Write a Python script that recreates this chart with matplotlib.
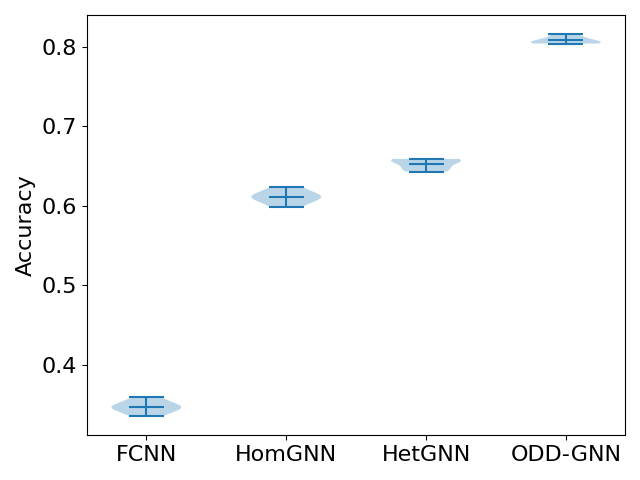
import numpy as np
import matplotlib
matplotlib.use('Agg')
import matplotlib.pyplot as plt

# 모델별 정확도 (반복 실행 결과)
models = ['FCNN', 'HomGNN', 'HetGNN', 'ODD-GNN']
acc_fcnn = [0.336, 0.345, 0.347, 0.349, 0.359]
acc_homgnn = [0.598, 0.609, 0.611, 0.613, 0.623]
acc_hetgnn = [0.643, 0.647, 0.656, 0.658, 0.659]
acc_oddgnn = [0.804, 0.8045, 0.806, 0.810, 0.816]

data = [acc_fcnn, acc_homgnn, acc_hetgnn, acc_oddgnn]

plt.rcParams['font.size'] = 16
fig, ax = plt.subplots(figsize=(6.4, 4.8), dpi=100)
ax.violinplot(data, showmeans=True)
ax.set_xticks(range(1, len(models) + 1))
ax.set_xticklabels(models)
ax.set_ylabel('Accuracy')

fig.subplots_adjust(left=0.136, right=0.977, top=0.969, bottom=0.094)
plt.savefig('out.png')
